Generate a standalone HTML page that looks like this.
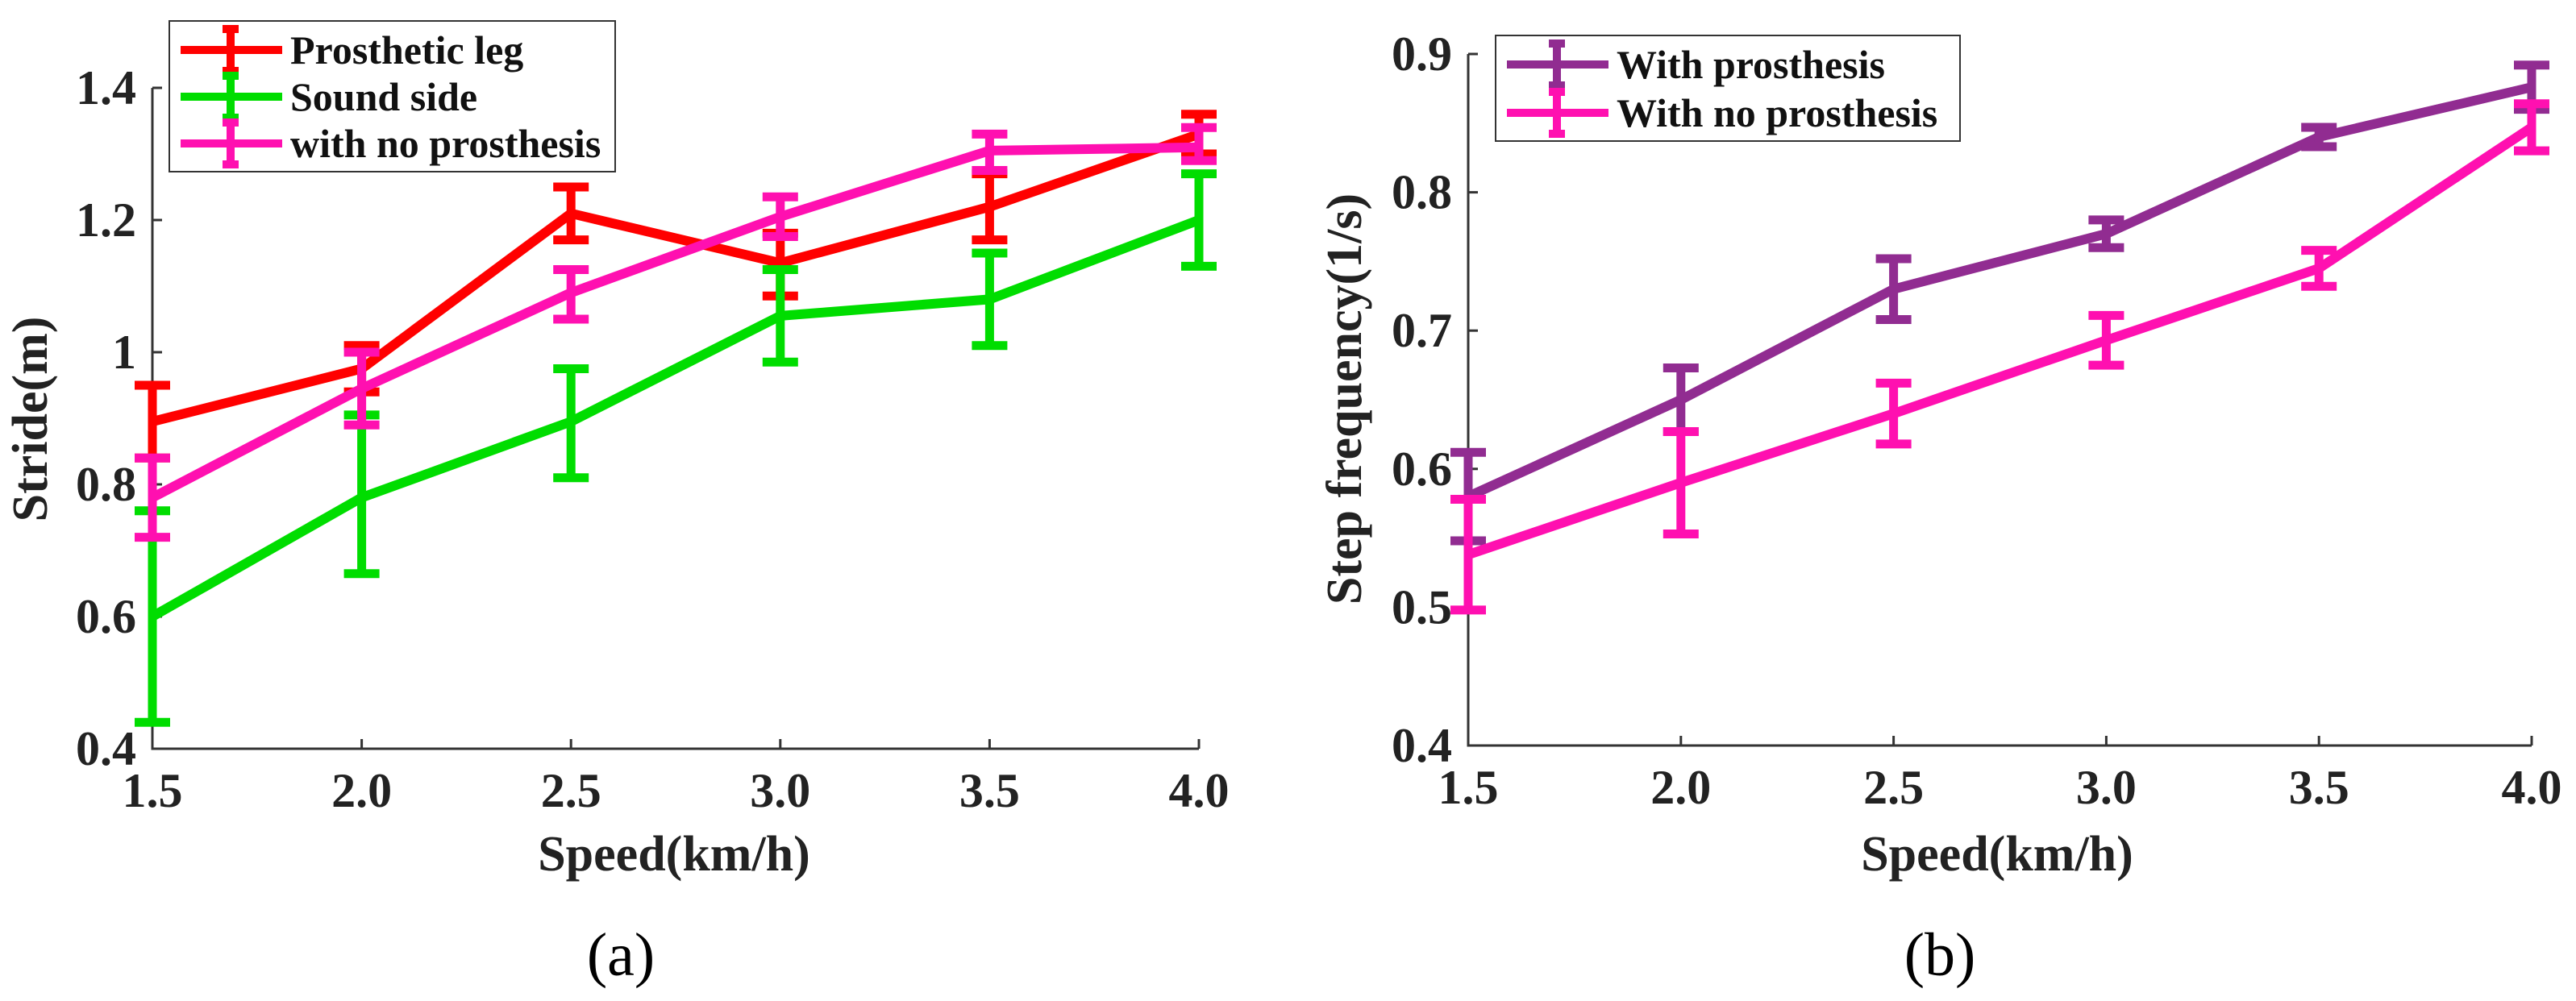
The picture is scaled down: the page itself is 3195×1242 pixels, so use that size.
<!DOCTYPE html>
<html><head><meta charset="utf-8"><style>
html,body{margin:0;padding:0;background:#fff;}
svg{display:block;font-family:"Liberation Serif",serif;}
</style></head><body>
<svg id="c" width="3195" height="1242" viewBox="0 0 3195 1242"></svg>
<script>
const speeds=[1.5,2.0,2.5,3.0,3.5,4.0];
const xTickLabels=["1.5","2.0","2.5","3.0","3.5","4.0"];
const aTicks=[0.4,0.6,0.8,1.0,1.2,1.4];
const aTickLabels=["0.4","0.6","0.8","1","1.2","1.4"];
const bTicks=[0.4,0.5,0.6,0.7,0.8,0.9];
const bTickLabels=["0.4","0.5","0.6","0.7","0.8","0.9"];
const prostheticMean=[0.895,0.975,1.21,1.135,1.22,1.33];
const prostheticLo=[0.84,0.94,1.17,1.085,1.17,1.30];
const prostheticHi=[0.95,1.01,1.25,1.18,1.27,1.36];
const soundMean=[0.60,0.78,0.895,1.055,1.08,1.20];
const soundLo=[0.44,0.665,0.81,0.985,1.01,1.13];
const soundHi=[0.76,0.905,0.975,1.125,1.15,1.27];
const noProsMean=[0.78,0.945,1.09,1.205,1.305,1.31];
const noProsLo=[0.72,0.89,1.05,1.175,1.275,1.29];
const noProsHi=[0.84,1.0,1.125,1.235,1.33,1.34];
const withFreqMean=[0.58,0.65,0.73,0.77,0.84,0.876];
const withFreqLo=[0.548,0.627,0.708,0.76,0.833,0.86];
const withFreqHi=[0.612,0.673,0.752,0.78,0.847,0.892];
const noFreqMean=[0.538,0.59,0.64,0.693,0.745,0.847];
const noFreqLo=[0.498,0.553,0.618,0.675,0.732,0.83];
const noFreqHi=[0.578,0.627,0.662,0.711,0.758,0.864];

const NS="http://www.w3.org/2000/svg";
const svg=document.getElementById('c');
function mk(tag,attrs,parent,text){const e=document.createElementNS(NS,tag);for(const k in attrs)e.setAttribute(k,attrs[k]);if(text!==undefined)e.textContent=text;(parent||svg).appendChild(e);return e;}

function panel(cfg){
  const g=mk('g',{});
  
  
  const xs=v=>cfg.x0+(v-1.5)/(4.0-1.5)*(cfg.x1-cfg.x0);
  const ys=v=>cfg.y0-(v-cfg.ymin)/(cfg.ymax-cfg.ymin)*(cfg.y0-cfg.y1);
  const ax=mk('path',{d:`M${cfg.x0},${cfg.y1} L${cfg.x0},${cfg.y0} L${cfg.x1},${cfg.y0}`,fill:'none',stroke:'#333','stroke-width':3},g);
  
  
  cfg.yt.forEach((v,i)=>{
    mk('line',{x1:cfg.x0,x2:cfg.x0+12,y1:ys(v),y2:ys(v),stroke:'#333','stroke-width':3},g);
    const t=mk('text',{x:cfg.x0-20,y:ys(v)+20,'text-anchor':'end','font-size':60,'font-weight':'bold',fill:'#222'},g,cfg.ytl[i]);
    
    
  });
  speeds.forEach((v,i)=>{
    mk('line',{x1:xs(v),x2:xs(v),y1:cfg.y0,y2:cfg.y0-12,stroke:'#333','stroke-width':3},g);
    const t=mk('text',{x:xs(v),y:cfg.y0+72,'text-anchor':'middle','font-size':60,'font-weight':'bold',fill:'#222'},g,xTickLabels[i]);
    
    
  });
  cfg.series.forEach(s=>{
    const sg=mk('g',{},g);
    
    
    const pts=s.m.map((v,i)=>xs(speeds[i])+','+ys(v)).join(' ');
    mk('polyline',{points:pts,fill:'none',stroke:s.c,'stroke-width':12,'stroke-linejoin':'miter'},sg);
    s.m.forEach((v,i)=>{
      const x=xs(speeds[i]);
      const e=mk('path',{d:`M${x},${ys(s.lo[i])} L${x},${ys(s.hi[i])} M${x-22},${ys(s.lo[i])} L${x+22},${ys(s.lo[i])} M${x-22},${ys(s.hi[i])} L${x+22},${ys(s.hi[i])}`,stroke:s.c,'stroke-width':11,fill:'none'},sg);
      
      
    });
  });
  const L=cfg.leg;
  const lg=mk('g',{},g);
  
  
  mk('rect',{x:L.x,y:L.y,width:L.w,height:L.h,fill:'#fff',stroke:'#333','stroke-width':2},lg);
  cfg.series.forEach((s,i)=>{
    const cy=L.y+L.first+i*L.step;
    const cx=L.x+76;
    mk('path',{d:`M${L.x+14},${cy} L${L.x+140},${cy} M${cx},${cy-26} L${cx},${cy+26} M${cx-10},${cy-26} L${cx+10},${cy-26} M${cx-10},${cy+26} L${cx+10},${cy+26}`,stroke:s.c,'stroke-width':10,fill:'none'},lg);
    const t=mk('text',{x:L.x+150,y:cy+17,'font-size':50,'font-weight':'bold',fill:'#111'},lg,s.label);
    
    
  });
  const xt=mk('text',{x:cfg.xlx,y:1080,'text-anchor':'middle','font-size':62,'font-weight':'bold',fill:'#222'},g,'Speed(km/h)');
  
  
  const yt=mk('text',{x:0,y:0,'text-anchor':'middle','font-size':62,'font-weight':'bold',fill:'#222',transform:`translate(${cfg.ylx},${cfg.yly}) rotate(-90)`},g,cfg.ylabel);
  
  
  const cap=mk('text',{x:cfg.capx,y:1210,'text-anchor':'middle','font-size':76,fill:'#000'},g,cfg.cap);
  
  
}

panel({name:'stride-chart',x0:189,x1:1487,y0:929,y1:109,ymin:0.4,ymax:1.4,yt:aTicks,ytl:aTickLabels,
  ylabel:'Stride(m)',ylx:58,yly:520,xlx:836,capx:770,cap:'(a)',
  leg:{x:210,y:26,w:553,h:187,first:36,step:58},
  series:[
    {name:'prosthetic-leg-series',label:'Prosthetic leg',c:'#ff0000',m:prostheticMean,lo:prostheticLo,hi:prostheticHi},
    {name:'sound-side-series',label:'Sound side',c:'#00dd00',m:soundMean,lo:soundLo,hi:soundHi},
    {name:'no-prosthesis-series',label:'with no prosthesis',c:'#ff10b0',m:noProsMean,lo:noProsLo,hi:noProsHi}
  ]});
panel({name:'step-frequency-chart',x0:1821,x1:3140,y0:925,y1:67,ymin:0.4,ymax:0.9,yt:bTicks,ytl:bTickLabels,
  ylabel:'Step frequency(1/s)',ylx:1688,yly:495,xlx:2477,capx:2406,cap:'(b)',
  leg:{x:1855,y:44,w:576,h:131,first:36,step:60},
  series:[
    {name:'with-prosthesis-series',label:'With prosthesis',c:'#912c91',m:withFreqMean,lo:withFreqLo,hi:withFreqHi},
    {name:'with-no-prosthesis-series',label:'With no prosthesis',c:'#ff10b0',m:noFreqMean,lo:noFreqLo,hi:noFreqHi}
  ]});
</script>
</body></html>
